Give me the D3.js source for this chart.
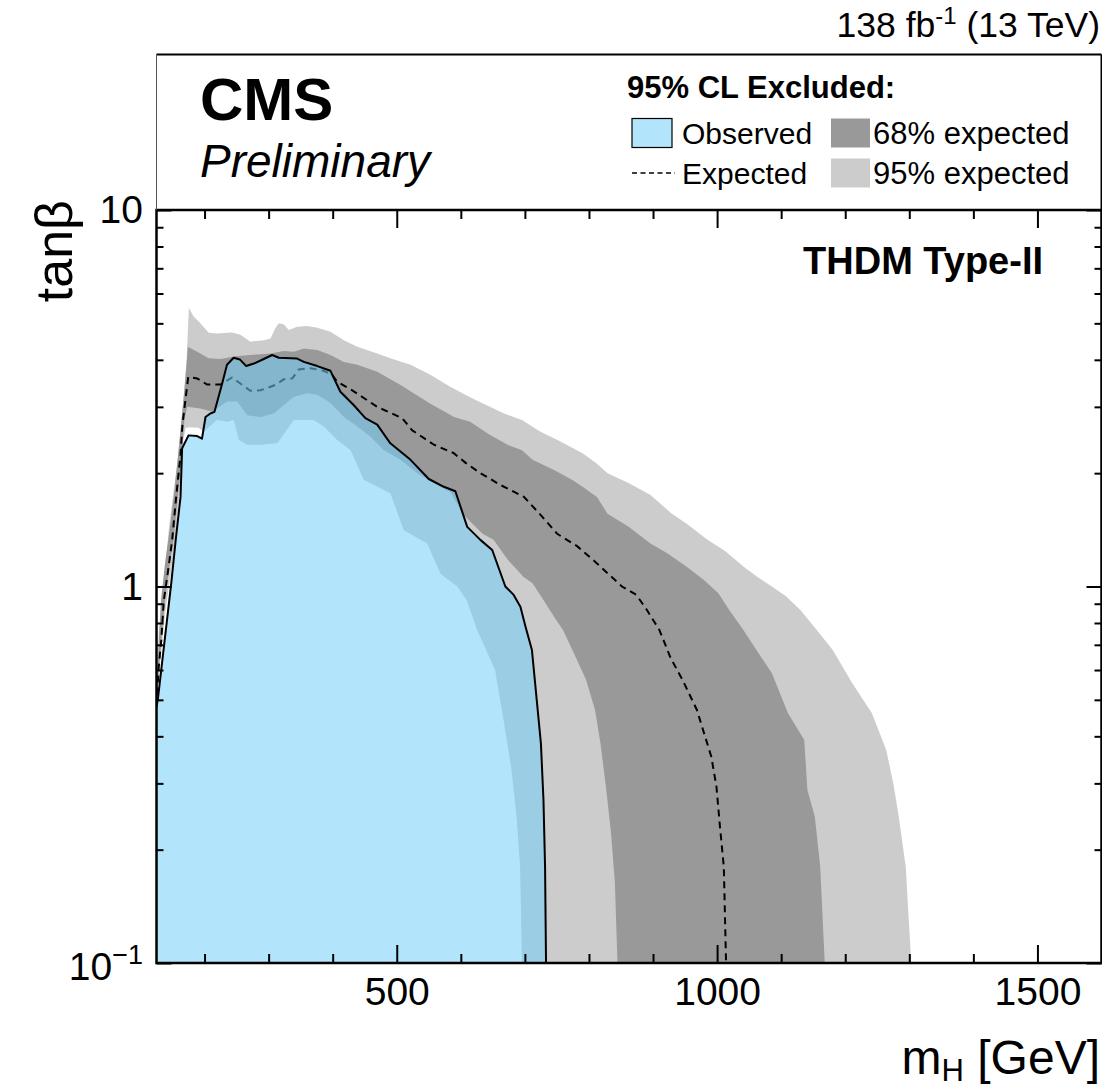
<!DOCTYPE html>
<html lang='en'>
<head>
	<meta charset='utf-8'>
	<title>THDM Type-II exclusion</title>
	<script src="https://d3js.org/d3.v7.min.js"></script>
	<style>
		body{margin:0;background:#fff;}
		text{font-family:'Liberation Sans',Arial,Helvetica,sans-serif;fill:#000;}
	</style>
</head>
<body>
<div id='chart'></div>
<script type='text/javascript'>
	// contours, points are [mH (GeV), tanb]
	const observed = [[125,0.48],[127,0.50],[148,1.02],[155,1.33],[162.5,1.73],[165,2.33],[175,2.52],[188.5,2.51],[196,2.47],[201.5,2.82],[209,2.88],[215.5,2.91],[227.5,3.46],[235,3.88],[245.5,4.05],[255,4.01],[265,3.85],[277,3.91],[292.5,4.02],[305.5,4.12],[316,4.05],[344.5,4.03],[355,3.95],[376,3.85],[396.5,3.74],[412,3.29],[433,3.03],[451,2.80],[469.5,2.69],[490,2.40],[521.5,2.17],[550,1.93],[573.5,1.84],[591.5,1.79],[610,1.44],[630.5,1.33],[649,1.25],[669.5,1.00],[682.5,0.95],[693,0.884],[701,0.782],[711,0.678],[717.5,0.52],[725,0.383],[729,0.271],[731.5,0.18],[733,0.1]];
	const expected = [[125,0.48],[128.5,0.611],[132.5,0.721],[136.5,0.921],[144,1.13],[149.5,1.33],[156,1.75],[162.5,2.24],[165.5,2.69],[174.5,3.60],[188.5,3.57],[204,3.44],[225,3.44],[243,3.59],[259,3.43],[271.5,3.31],[287.5,3.32],[310.5,3.43],[323.5,3.55],[337,3.57],[347,3.77],[365.5,3.80],[386,3.74],[399,3.65],[407,3.50],[430.5,3.32],[469.5,3.00],[508.5,2.80],[524,2.60],[558,2.38],[589,2.26],[607.5,2.13],[630.5,2.00],[662,1.86],[684,1.78],[698.5,1.73],[724.5,1.55],[750.5,1.38],[781.5,1.28],[813,1.15],[851.5,1.00],[874,0.95],[890.5,0.866],[910,0.766],[927.5,0.646],[946,0.565],[968.5,0.47],[991,0.353],[999,0.294],[1004.5,0.23],[1010.5,0.18],[1014,0.1]];
	const up95 = [[125,0.531],[128.5,0.752],[136.5,1.0],[144,1.41],[150,1.70],[158,2.17],[164,2.77],[167,3.13],[172,4.0],[175.5,5.49],[183,5.21],[193.5,5.0],[206.5,4.72],[219.5,4.70],[243,4.73],[256,4.66],[271.5,4.47],[292.5,4.51],[303,4.56],[310.5,4.85],[316,5.0],[323.5,4.97],[331.5,4.80],[344.5,4.90],[360,4.92],[376,4.87],[396.5,4.75],[417.5,4.51],[438.5,4.33],[469.5,4.16],[490,4.04],[521.5,3.88],[552.5,3.65],[584,3.39],[617.5,3.16],[667.5,2.88],[695.5,2.77],[723.5,2.58],[751,2.45],[790,2.26],[812.5,2.12],[829,2.00],[862.5,1.88],[896,1.75],[929.5,1.56],[952,1.47],[985,1.33],[1013,1.24],[1041,1.13],[1063,1.06],[1085.5,1.0],[1108,0.94],[1130,0.866],[1155.5,0.766],[1180.5,0.678],[1211,0.553],[1241.5,0.461],[1264,0.368],[1275,0.30],[1283.5,0.245],[1294.5,0.18],[1303,0.1]];
	const up68 = [[125,0.509],[128,0.678],[132,0.921],[139,1.18],[145.5,1.41],[153,1.80],[159.5,2.30],[164,2.77],[168.5,3.32],[172.5,4.0],[174,4.33],[188.5,4.20],[206.5,4.04],[225,4.02],[248.5,4.09],[271.5,4.12],[303,4.16],[323.5,4.22],[339.5,4.20],[355,4.29],[376,4.25],[396.5,4.12],[417.5,3.95],[438.5,3.88],[469.5,3.72],[506,3.43],[550.5,3.07],[589.5,2.82],[614.5,2.74],[645,2.53],[673,2.38],[695.5,2.30],[712,2.17],[745.5,2.04],[773.5,1.92],[790,1.84],[812.5,1.73],[829,1.56],[862.5,1.44],[896,1.30],[921,1.23],[952,1.13],[979.5,1.04],[1002,0.959],[1019,0.866],[1041,0.766],[1085.5,0.588],[1110.5,0.461],[1136,0.391],[1141,0.288],[1152.5,0.245],[1161,0.18],[1168,0.1]];
	const down68 = [[125,0.497],[130,0.638],[137.5,0.893],[145.5,1.14],[151.5,1.33],[158,1.70],[162.5,2.04],[165.5,2.38],[168.5,2.77],[173,3.00],[193.5,2.97],[212,2.91],[235.5,3.10],[251,3.10],[266.5,2.85],[287.5,2.82],[308,2.88],[339.5,3.19],[360,3.26],[376,3.23],[396.5,3.07],[417.5,2.82],[438.5,2.66],[459,2.50],[480,2.30],[506,2.17],[532,2.00],[558,1.88],[584,1.78],[604,1.55],[634,1.38],[651,1.33],[673,1.18],[698,1.06],[712,1.02],[729,0.921],[745.5,0.831],[759.5,0.766],[779,0.651],[795.5,0.565],[809.5,0.47],[818,0.383],[826.5,0.294],[834.5,0.221],[840.5,0.163],[844.5,0.1]];
	const down95 = [[125,0.484],[131,0.638],[139,0.866],[147,1.07],[153,1.29],[159.5,1.65],[164,2.04],[167,2.45],[170.5,2.64],[178,2.65],[190.5,2.64],[199,2.58],[219.5,2.77],[235.5,2.74],[245.5,2.77],[253.5,2.45],[266.5,2.38],[287.5,2.38],[313.5,2.40],[339.5,2.77],[370.5,2.77],[386,2.66],[407,2.45],[428,2.30],[448.5,1.92],[490,1.77],[511,1.41],[547.5,1.30],[568.5,1.08],[594.5,1.0],[609,0.921],[625.5,0.766],[653.5,0.60],[667.5,0.433],[678.5,0.332],[687,0.245],[692.5,0.18],[695.5,0.1]];

	const xMajor = [500,1000,1500];
	const xMinor = [200,300,400,600,700,800,900,1100,1200,1300,1400,1600];
	const yMajor = [0.1,1,10];
	const yMinor = [0.2,0.3,0.4,0.5,0.6,0.7,0.8,0.9,2,3,4,5,6,7,8,9];
	const yLabels = [{v:0.1,base:"10",sup:"\u22121"},{v:1,base:"1",sup:""},{v:10,base:"10",sup:""}];
	const legendRows = [
		{label:"Observed",kind:"obs",col:0,row:0},
		{label:"68% expected",kind:"b68",col:1,row:0},
		{label:"Expected",kind:"exp",col:0,row:1},
		{label:"95% expected",kind:"b95",col:1,row:1}
	];

	const W = 1102, H = 1090;
	let frame = {left:156.5,right:1101.5,top:210,bottom:963,legTop:54.5};
	let colors = {b95:'#cccccc',b68:'#999999',obs:'rgb(115,206,248)'};
	let obsOpacity = 0.55;

	let svg = d3.select("#chart")
				.append("svg")
					.attr("width",W)
					.attr("height",H);

	let x = d3.scaleLinear().domain([125,1600]).range([frame.left,frame.right]);
	let y = d3.scaleLog().domain([0.1,10]).range([frame.bottom,frame.top]);

	svg.append("clipPath").attr("id","plotclip")
		.append("rect")
			.attr("x",frame.left).attr("y",frame.top)
			.attr("width",frame.right-frame.left).attr("height",frame.bottom-frame.top);

	let line = d3.line().x(d=>x(d[0])).y(d=>y(d[1]));
	let plot = svg.append("g").attr("clip-path","url(#plotclip)");

	//bands are outer contour + inner contour back
	plot.append("path")
		.attr("d",line(up95.concat(down95.slice().reverse()))+"Z")
		.attr("fill",colors.b95);
	plot.append("path")
		.attr("d",line(up68.concat(down68.slice().reverse()))+"Z")
		.attr("fill",colors.b68);
	plot.append("path")
		.attr("d",line(expected))
		.attr("fill","none").attr("stroke","#000").attr("stroke-width",2).attr("stroke-dasharray","7,5");
	plot.append("path")
		.attr("d",line(observed.concat([[125,0.1]]))+"Z")
		.attr("fill",colors.obs).attr("fill-opacity",obsOpacity);
	plot.append("path")
		.attr("d",line(observed))
		.attr("fill","none").attr("stroke","#000").attr("stroke-width",2).attr("stroke-linejoin","round");

	//axes, all ticks point inwards
	function tickStyle(g){
		g.select(".domain").remove();
		g.selectAll("line").attr("stroke","#000").attr("stroke-width",2);
	}
	svg.append("g").attr("transform",`translate(0,${frame.bottom})`)
		.call(d3.axisBottom(x).tickValues(xMinor).tickSize(-9).tickSizeOuter(0).tickFormat(""))
		.call(tickStyle);
	svg.append("g").attr("transform",`translate(0,${frame.bottom})`)
		.call(d3.axisBottom(x).tickValues(xMajor).tickSize(-18).tickSizeOuter(0).tickPadding(14).tickFormat(d3.format("d")))
		.call(tickStyle)
		.attr("font-size",null).attr("font-family",null)
		.selectAll("text").style("font-size","39px");
	svg.append("g").attr("transform",`translate(0,${frame.top})`)
		.call(d3.axisTop(x).tickValues(xMinor).tickSize(-9).tickSizeOuter(0).tickFormat(""))
		.call(tickStyle);
	svg.append("g").attr("transform",`translate(0,${frame.top})`)
		.call(d3.axisTop(x).tickValues(xMajor).tickSize(-18).tickSizeOuter(0).tickFormat(""))
		.call(tickStyle);
	[[d3.axisLeft,frame.left],[d3.axisRight,frame.right]].forEach(function(a){
		svg.append("g").attr("transform",`translate(${a[1]},0)`)
			.call(a[0](y).tickValues(yMinor).tickSize(-7).tickSizeOuter(0).tickFormat(""))
			.call(tickStyle);
		svg.append("g").attr("transform",`translate(${a[1]},0)`)
			.call(a[0](y).tickValues(yMajor).tickSize(-15).tickSizeOuter(0).tickFormat(""))
			.call(tickStyle);
	});

	//y tick labels with exponent
	yLabels.forEach(function(d){
		let t = svg.append("text")
			.attr("x",143)
			.attr("y",y(d.v)+(d.sup?17:13))
			.attr("text-anchor","end")
			.style("font-size","39px")
			.text(d.base);
		if(d.sup){
			t.append("tspan").attr("dy",-16).style("font-size","27px").text(d.sup);
		}
	});

	//frame and legend box
	svg.append("rect")
		.attr("x",frame.left).attr("y",frame.top)
		.attr("width",frame.right-frame.left).attr("height",frame.bottom-frame.top)
		.attr("fill","none").attr("stroke","#000").attr("stroke-width",2.5);
	svg.append("line")
		.attr("x1",frame.left).attr("x2",frame.right).attr("y1",frame.legTop).attr("y2",frame.legTop)
		.attr("stroke","#000").attr("stroke-width",2);
	svg.append("line")
		.attr("x1",frame.right).attr("x2",frame.right).attr("y1",frame.legTop).attr("y2",frame.top)
		.attr("stroke","#000").attr("stroke-width",2);
	svg.append("line")
		.attr("x1",frame.left).attr("x2",frame.left).attr("y1",frame.legTop).attr("y2",frame.top)
		.attr("stroke","#555").attr("stroke-width",1);

	//titles
	svg.append("text").attr("x",200).attr("y",120)
		.style("font-size","60px").style("font-weight","bold").text("CMS");
	svg.append("text").attr("x",200).attr("y",177)
		.style("font-size","46px").style("font-style","italic").text("Preliminary");

	let lumi = svg.append("text").attr("x",1100).attr("y",37)
		.attr("text-anchor","end").style("font-size","35.5px").text("138 fb");
	lumi.append("tspan").attr("dy",-13).style("font-size","24px").text("-1");
	lumi.append("tspan").attr("dy",13).text(" (13 TeV)");

	svg.append("text").attr("x",1043).attr("y",274)
		.attr("text-anchor","end").style("font-size","38px").style("font-weight","bold").text("THDM Type-II");

	let xt = svg.append("text").attr("x",1100).attr("y",1074)
		.attr("text-anchor","end").style("font-size","48px").text("m");
	xt.append("tspan").attr("dy",7).style("font-size","31px").text("H");
	xt.append("tspan").attr("dy",-7).text(" [GeV]");

	svg.append("text")
		.attr("transform","translate(72,200) rotate(-90)")
		.attr("text-anchor","end")
		.style("font-size","52px")
		.text("tan\u03b2");

	//legend
	svg.append("text").attr("x",627).attr("y",98)
		.style("font-size","31px").style("font-weight","bold").text("95% CL Excluded:");
	let colX = [632,831], rowY = [133,173];
	legendRows.forEach(function(d){
		let lx = colX[d.col], ly = rowY[d.row];
		if(d.kind=="obs"){
			svg.append("rect").attr("x",lx).attr("y",ly-14.5).attr("width",40).attr("height",29)
				.attr("fill",colors.obs).attr("fill-opacity",obsOpacity).attr("stroke","#000").attr("stroke-width",1.2);
		} else if(d.kind=="exp"){
			svg.append("line").attr("x1",lx).attr("x2",lx+43).attr("y1",ly).attr("y2",ly)
				.attr("stroke","#000").attr("stroke-width",1.5).attr("stroke-dasharray","5,3.5");
		} else {
			svg.append("rect").attr("x",lx).attr("y",ly-14.5).attr("width",39).attr("height",29)
				.attr("fill",colors[d.kind]);
		}
		svg.append("text").attr("x",d.col==0?682:873).attr("y",ly+11)
			.style("font-size",d.col==0?"30px":"31px").text(d.label);
	});
</script>
</body>
</html>
